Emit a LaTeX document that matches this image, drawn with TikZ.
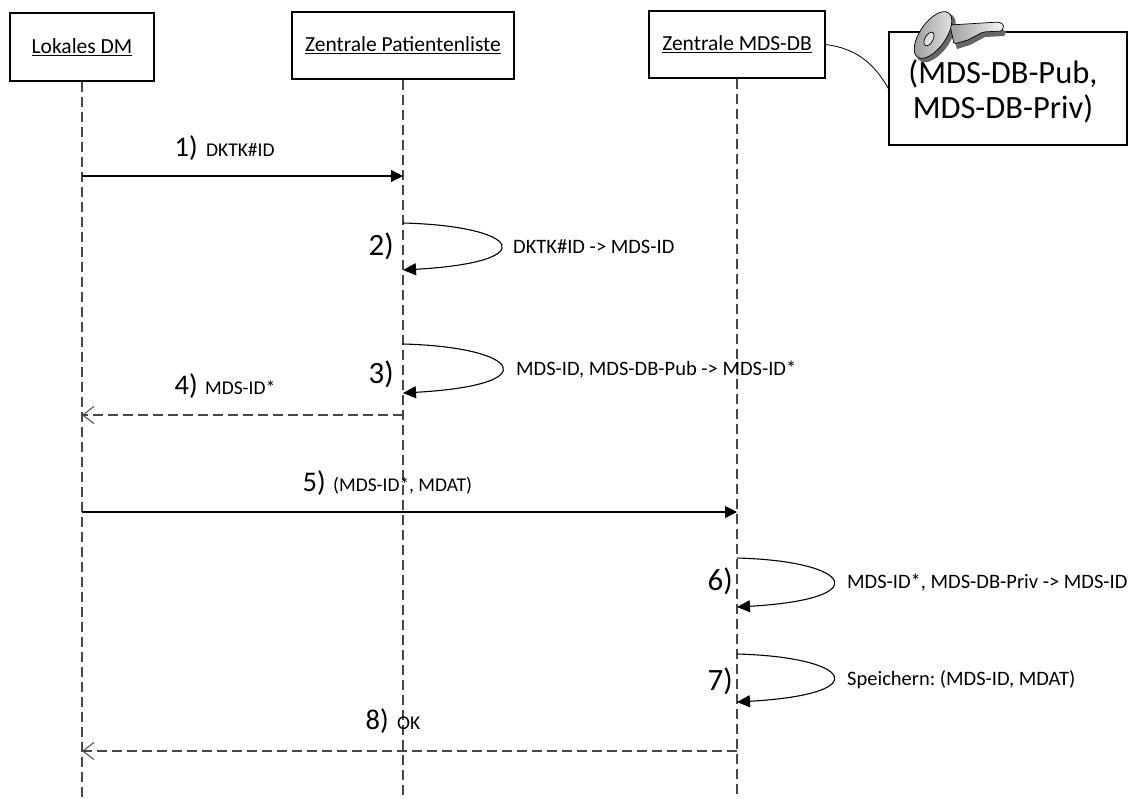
\documentclass[tikz,border=0pt]{standalone}
\usepackage{fontspec}
\setmainfont{Carlito}
\usetikzlibrary{arrows.meta,calc}
\begin{document}
\frenchspacing
\begin{tikzpicture}[x=1pt,y=-1pt,
  actor/.style={draw=black, line width=1.1pt, fill=white, inner sep=0pt, font=\fontsize{21.5}{25}\selectfont},
  keybox/.style={draw=black, line width=1.1pt, fill=white, inner sep=0pt},
  life/.style={draw=black!72, line width=1.2pt, dash pattern=on 10pt off 5pt},
  msg/.style={draw=black, line width=1.1pt, -{Triangle[length=12pt,width=12pt]}},
  ret/.style={draw=black!72, line width=1.2pt, dash pattern=on 10pt off 5pt, -{Straight Barb[length=11pt,width=17pt,line width=1pt]}},
  selfmsg/.style={draw=black, line width=1.1pt, -{Triangle[length=13pt,width=12pt]}},
  num/.style={font=\fontsize{28.5}{30}\selectfont, inner sep=0pt},
  bignum/.style={font=\fontsize{31}{33}\selectfont, inner sep=0pt},
  lab/.style={font=\fontsize{19.5}{22}\selectfont, inner sep=0pt},
  looplab/.style={font=\fontsize{20.5}{23}\selectfont, inner sep=0pt},
  keytxt/.style={font=\fontsize{32.5}{35}\selectfont, inner sep=0pt},
]
\useasboundingbox (0,0) rectangle (1142,798);

% actors
\node[actor, minimum width=144pt, minimum height=68pt] (a) at (82,47) {\underline{Lokales DM}};
\node[actor, minimum width=222pt, minimum height=67pt] (b) at (403,45.5) {\underline{Zentrale Patientenliste}};
\node[actor, minimum width=176pt, minimum height=67pt] (c) at (737,44.5) {\underline{Zentrale MDS-DB}};

% lifeline ends
\coordinate (aEnd) at (82,798);
\coordinate (bEnd) at (403,798);
\coordinate (cEnd) at (737,798);
\draw[life] (a.south) -- (aEnd);
\draw[life] (b.south) -- (bEnd);
\draw[life] (c.south) -- (cEnd);

% key box
\node[keybox, minimum width=238pt, minimum height=113pt] (k) at (1008,88.5) {};
\draw[black, line width=0.8pt] (c.east) .. controls ($(c.east)+(32,4)$) and ($(k.west)+(-14,-24)$) .. (k.west);

% key icon
\begin{scope}
  \fill[black!60] (952,31) -- (1001,28) -- (1006,32) -- (1004,36) -- (985,37) -- (970,45) -- (957,49) -- cycle;
  \fill[black!60, rotate around={55:(936,38)}] (936,38) ellipse [x radius=28, y radius=14];
  \shade[left color=gray!75, right color=gray!8, draw=black, line width=0.7pt, rounded corners=1.5pt]
    (950,25) -- (999,22) -- (1004,25) -- (1002,31) -- (983,32) -- (968,40) -- (954,44) -- cycle;
  \shade[left color=gray!80, right color=gray!20, draw=black, line width=0.7pt, rotate around={55:(933,35)}]
    (933,35) ellipse [x radius=27, y radius=13];
  \draw[black, line width=0.7pt, fill=gray!25, rotate around={60:(929,39)}] (929,39) ellipse [x radius=7.5, y radius=4];
\end{scope}
\node[keytxt, anchor=base] (k1) at (1003,83) {(MDS-DB-Pub,};
\node[keytxt, anchor=base] (k2) at (1003,118) {MDS-DB-Priv)};

% 1)
\coordinate (m1s) at (82,176);
\coordinate (m1e) at (403,176);
\draw[msg] (m1s) -- (m1e);
\node[num, anchor=base east] (n1) at (198,156) {1)};
\node[lab, anchor=base west] (t1) at (206,156) {DKTK\#ID};

% 2)
\coordinate (l2s) at (403,223);
\coordinate (l2e) at (403,270);
\draw[selfmsg] (l2s) .. controls ($(l2s)+(117,3)$) and ($(l2e)+(142,-8)$) .. (l2e);
\node[bignum, anchor=base east] (n2) at (394,255) {2)};
\node[looplab, anchor=base west] (t2) at (513,253) {DKTK\#ID -> MDS-ID};

% 3)
\coordinate (l3s) at (403,344);
\coordinate (l3e) at (403,393);
\draw[selfmsg] (l3s) .. controls ($(l3s)+(117,3)$) and ($(l3e)+(145,-8)$) .. (l3e);
\node[bignum, anchor=base east] (n3) at (394,383) {3)};
\node[looplab, anchor=base west] (t3) at (516,375) {MDS-ID, MDS-DB-Pub -> MDS-ID*};

% 4)
\coordinate (r4s) at (403,415);
\coordinate (r4e) at (82,415);
\draw[ret] (r4s) -- (r4e);
\node[num, anchor=base east] (n4) at (198,394) {4)};
\node[lab, anchor=base west] (t4) at (205,394) {MDS-ID*};

% 5)
\coordinate (m5s) at (82,512);
\coordinate (m5e) at (737,512);
\draw[msg] (m5s) -- (m5e);
\node[num, anchor=base east] (n5) at (326,491) {5)};
\node[lab, anchor=base west] (t5) at (333,491) {(MDS-ID*, MDAT)};

% 6)
\coordinate (l6s) at (737,558);
\coordinate (l6e) at (737,607);
\draw[selfmsg] (l6s) .. controls ($(l6s)+(115,3)$) and ($(l6e)+(140,-8)$) .. (l6e);
\node[bignum, anchor=base east] (n6) at (733,590) {6)};
\node[looplab, anchor=base west] (t6) at (847,588) {MDS-ID*, MDS-DB-Priv -> MDS-ID};

% 7)
\coordinate (l7s) at (737,654);
\coordinate (l7e) at (737,702);
\draw[selfmsg] (l7s) .. controls ($(l7s)+(115,3)$) and ($(l7e)+(140,-8)$) .. (l7e);
\node[bignum, anchor=base east] (n7) at (733,690) {7)};
\node[looplab, anchor=base west] (t7) at (847,685) {Speichern: (MDS-ID, MDAT)};

% 8)
\coordinate (r8s) at (737,751);
\coordinate (r8e) at (82,751);
\draw[ret] (r8s) -- (r8e);
\node[num, anchor=base east] (n8) at (389,729) {8)};
\node[lab, anchor=base west] (t8) at (397,729) {OK};
\end{tikzpicture}
\end{document}
